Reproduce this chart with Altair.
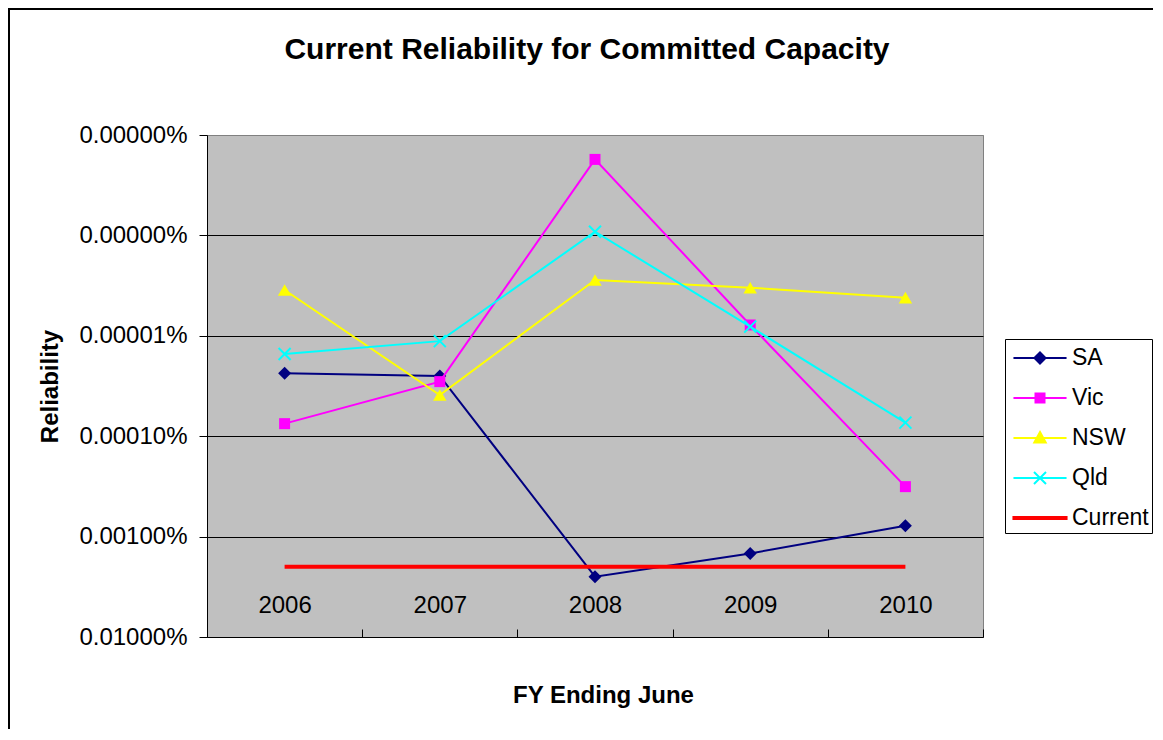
import altair as alt
import pandas as pd

FONT = "Liberation Sans, Arial, Helvetica, sans-serif"

chart_title = "Current Reliability for Committed Capacity"
x_title = "FY Ending June"
y_title = "Reliability"

years = ["2006", "2007", "2008", "2009", "2010"]
series = ["SA", "Vic", "NSW", "Qld", "Current"]
colors = ["#000080", "#FF00FF", "#FFFF00", "#00FFFF", "#FF0000"]

# values as fractions (axis shows them as percentages)
sa = [2.36e-7, 2.51e-7, 2.51e-5, 1.47e-5, 7.78e-6]
vic = [7.50e-7, 2.86e-7, 1.75e-9, 7.80e-8, 3.18e-6]
nsw = [3.50e-8, 3.89e-7, 2.78e-8, 3.32e-8, 4.17e-8]
qld = [1.52e-7, 1.13e-7, 9.18e-9, 8.11e-8, 7.33e-7]
current = [2.0e-5, 2.0e-5, 2.0e-5, 2.0e-5, 2.0e-5]

y_ticks = [1e-9, 1e-8, 1e-7, 1e-6, 1e-5, 1e-4]

rows = []
for name, vals in zip(series, [sa, vic, nsw, qld, current]):
    for yr, v in zip(years, vals):
        rows.append({"Year": yr, "Series": name, "Value": v})
df = pd.DataFrame(rows)

x_path = "M-1,-1L1,1M-1,1L1,-1"
legend_paths = [
    "M-1.77,0L1.77,0M-0.37,0L0,-0.37L0.37,0L0,0.37Z",
    "M-1.77,0L1.77,0M-0.3,-0.3L0.3,-0.3L0.3,0.3L-0.3,0.3Z",
    "M-1.77,0L1.77,0M0,-0.4L0.38,0.3L-0.38,0.3Z",
    "M-1.77,0L1.77,0M-0.4,-0.4L0.4,0.4M-0.4,0.4L0.4,-0.4",
    "M-1.77,-0.067L1.77,-0.067L1.77,0.067L-1.77,0.067Z",
]

W, H = 776, 502

x_enc = alt.X(
    "Year:N",
    sort=years,
    scale=alt.Scale(type="band", paddingInner=0, paddingOuter=0),
    axis=alt.Axis(
        title=x_title, offset=-8, domain=False, ticks=True, tickBand="extent",
        tickSize=8, tickColor="black", tickWidth=1, grid=False, labelAngle=0,
        labelFont=FONT, labelFontSize=24, labelColor="black", labelPadding=-32,
        labelBaseline="middle",
        titleFont=FONT, titleFontSize=24, titleFontWeight="bold", titleColor="black",
        titleX=396, titleY=73, titleAlign="center", titleBaseline="alphabetic",
    ),
)
y_enc = alt.Y(
    "Value:Q",
    scale=alt.Scale(type="log", domain=[1e-9, 1e-4], reverse=True, nice=False),
    axis=alt.Axis(
        values=y_ticks, format=".5%", title=y_title,
        grid=True,
        gridColor={"condition": {"test": "datum.value < 2e-9", "value": "#808080"}, "value": "black"},
        gridWidth=1,
        domain=True, domainColor="black", domainWidth=1,
        tickSize=8, tickColor="black", tickWidth=1,
        labelFont=FONT, labelFontSize=24, labelColor="black", labelPadding=12,
        titleFont=FONT, titleFontSize=24, titleFontWeight="bold", titleColor="black",
        titleX=-150, titleY=251, titleAngle=-90, titleAlign="center",
        titleBaseline="alphabetic",
    ),
)

base = alt.Chart(df)

marker_specs = [
    dict(shape="diamond", filled=True, size=169),
    dict(shape="square", filled=True, size=121),
    dict(shape="triangle-up", filled=True, size=180),
    dict(shape=x_path, filled=False, size=144, strokeWidth=2),
]

series_layers = []
for name, col, props in zip(series[:4], colors[:4], marker_specs):
    sub = base.transform_filter(alt.datum.Series == name)
    series_layers.append(
        sub.mark_line(strokeWidth=2, color=col).encode(x=x_enc, y=y_enc)
    )
    series_layers.append(
        sub.mark_point(color=col, opacity=1, **props).encode(x=x_enc, y=y_enc)
    )

current_line = base.transform_filter(alt.datum.Series == "Current").mark_line(
    strokeWidth=4, color=colors[4]
).encode(x=x_enc, y=y_enc)

# legend-only layer: no rows survive the filter, the legend comes from the scales
legend_layer = base.transform_filter(alt.datum.Year == "none").mark_point(
    filled=True, opacity=1, strokeWidth=2
).encode(
    x=x_enc, y=y_enc,
    fill=alt.Fill("Series:N", scale=alt.Scale(domain=series, range=colors), title=None),
    stroke=alt.Stroke("Series:N", scale=alt.Scale(domain=series, range=colors), title=None),
    shape=alt.Shape("Series:N", scale=alt.Scale(domain=series, range=legend_paths), title=None),
)

title_layer = alt.Chart(pd.DataFrame({"t": [chart_title]})).mark_text(
    font=FONT, fontSize=30, fontWeight="bold", color="black",
    align="center", baseline="alphabetic",
).encode(x=alt.value(380), y=alt.value(-76), text="t:N")

frame_df = pd.DataFrame({"k": [0]})
left_border = alt.Chart(frame_df).mark_rule(color="black", strokeWidth=2).encode(
    x=alt.value(-198), y=alt.value(-126), y2=alt.value(600)
)
top_border = alt.Chart(frame_df).mark_rule(color="black", strokeWidth=2).encode(
    x=alt.value(-199), x2=alt.value(950), y=alt.value(-126)
)

chart = alt.layer(
    *series_layers, current_line, legend_layer, title_layer, left_border, top_border
).properties(
    width=W, height=H,
    autosize=alt.AutoSizeParams(type="none"),
    padding={"left": 199, "top": 127, "right": 170, "bottom": 92},
    background="white",
).configure_view(
    fill="#C0C0C0", stroke="#808080", strokeWidth=1
).configure_legend(
    orient="none", legendX=798, legendY=204,
    fillColor="white", strokeColor="black", padding=3,
    symbolSize=900, symbolStrokeWidth=2, symbolOffset=16, labelOffset=16,
    labelFont=FONT, labelFontSize=23, labelColor="black", rowPadding=12,
)

chart.save("out.html", embed_options={"renderer": "svg", "actions": False})
